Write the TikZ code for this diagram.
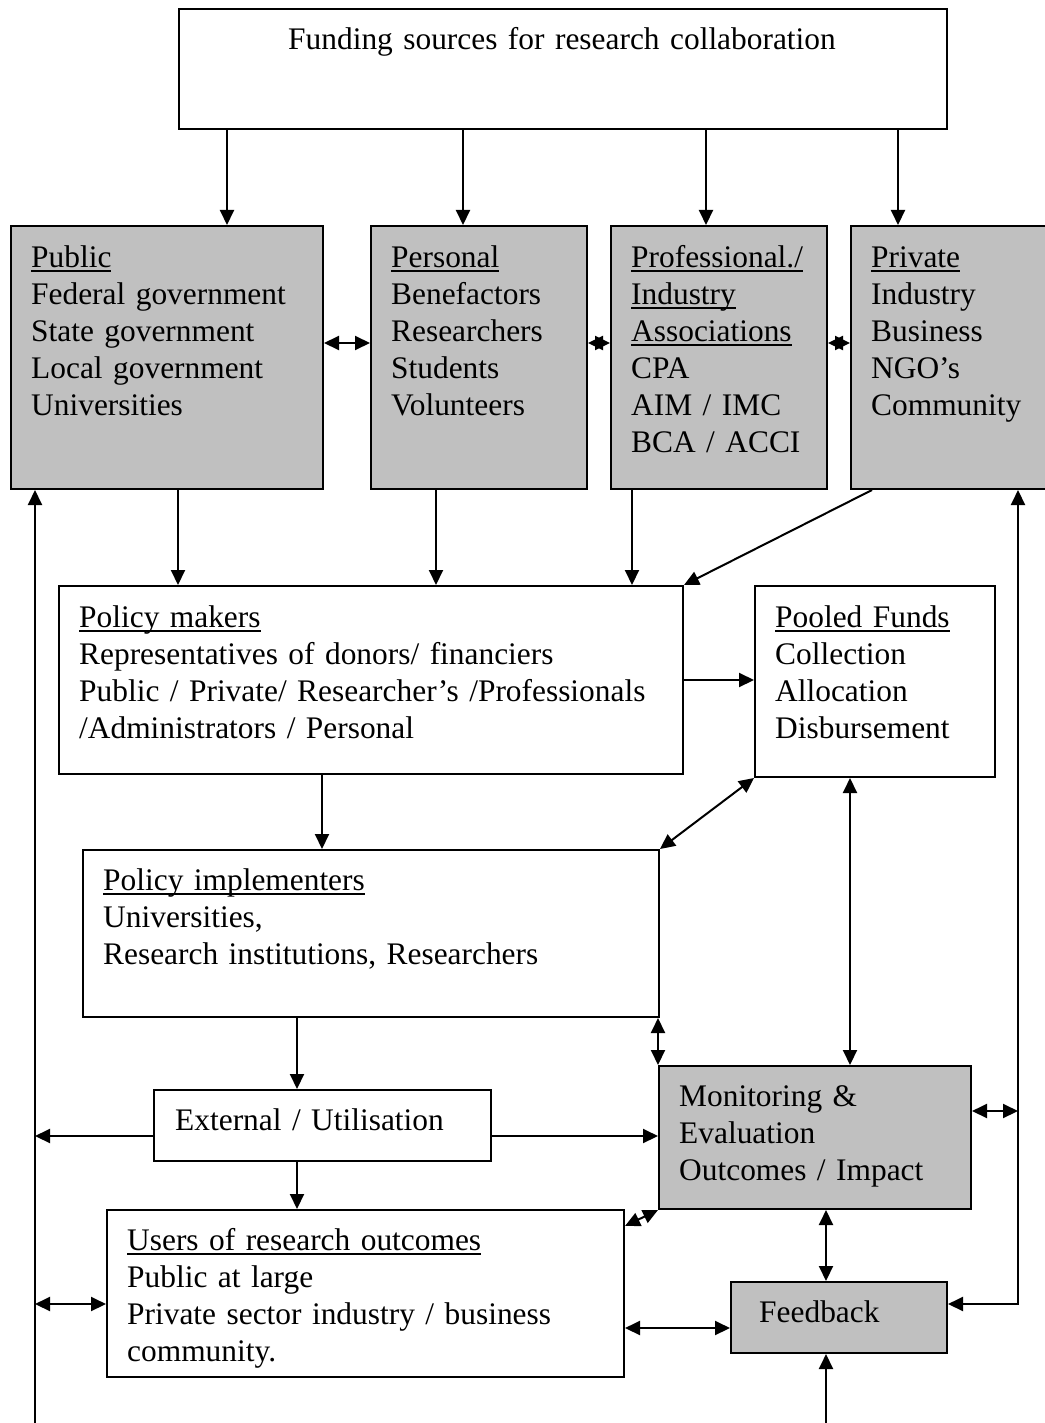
\documentclass[tikz,border=0pt]{standalone}
\usepackage{fontspec}
\setmainfont{Liberation Serif}
\usetikzlibrary{arrows.meta,calc}
\definecolor{boxgray}{RGB}{192,192,192}
% underline at a fixed depth below the baseline
\newcommand\uln[1]{\leavevmode\setbox0=\hbox{#1}\rlap{\rule[-5pt]{\wd0}{1.8pt}}\box0}
\begin{document}
\begin{tikzpicture}[x=1pt,y=-1pt,
  box/.style={draw=black,line width=2pt,fill=white,inner sep=0pt,anchor=north west},
  graybox/.style={box,fill=boxgray},
  txt/.style={anchor=base west,inner sep=0pt,align=left,text width=#1,
              font=\fontsize{31.4}{37}\selectfont},
  txt/.default=600pt,
  tip/.tip={Triangle[length=15pt,width=14pt]},
  arr/.style={line width=2pt,-tip},
  darr/.style={line width=2pt,tip-tip}]
\useasboundingbox (0,0) rectangle (1044,1423);

% boxes
\node[box,minimum width=768pt,minimum height=120pt] (top) at (178,8) {};
\node[graybox,minimum width=312pt,minimum height=263pt] (pub) at (10,225) {};
\node[graybox,minimum width=216pt,minimum height=263pt] (per) at (370,225) {};
\node[graybox,minimum width=216pt,minimum height=263pt] (pro) at (610,225) {};
\node[graybox,minimum width=200pt,minimum height=263pt] (pri) at (850,225) {};
\node[box,minimum width=624pt,minimum height=188pt] (pm) at (58,585) {};
\node[box,minimum width=240pt,minimum height=191pt] (pool) at (754,585) {};
\node[box,minimum width=576pt,minimum height=167pt] (impl) at (82,849) {};
\node[box,minimum width=337pt,minimum height=71pt] (ext) at (153,1089) {};
\node[graybox,minimum width=312pt,minimum height=143pt] (mon) at (658,1065) {};
\node[box,minimum width=517pt,minimum height=167pt] (users) at (106,1209) {};
\node[graybox,minimum width=216pt,minimum height=71pt] (fb) at (730,1281) {};

% texts
\node[txt=768pt,anchor=base,align=center] (ttop) at (562,50)
  {Funding sources for research collaboration};
\node[txt] (tpub) at (31,267) {\uln{Public}\\Federal government\\State government\\Local government\\Universities};
\node[txt] (tper) at (391,267) {\uln{Personal}\\Benefactors\\Researchers\\Students\\Volunteers};
\node[txt] (tpro) at (631,267) {\uln{Professional./}\\\uln{Industry}\\\uln{Associations}\\CPA\\AIM / IMC\\BCA / ACCI};
\node[txt] (tpri) at (871,267) {\uln{Private}\\Industry\\Business\\NGO’s\\Community};
\node[txt] (tpm) at (79,627) {\uln{Policy makers}\\Representatives of donors/ financiers\\Public / Private/ Researcher’s /Professionals\\/Administrators / Personal};
\node[txt] (tpool) at (775,627) {\uln{Pooled Funds}\\Collection\\Allocation\\Disbursement};
\node[txt] (timpl) at (103,890) {\uln{Policy implementers}\\Universities,\\Research institutions, Researchers};
\node[txt] (text) at (175,1130) {External / Utilisation};
\node[txt] (tmon) at (679,1106) {Monitoring \&\\Evaluation\\Outcomes / Impact};
\node[txt] (tusers) at (127,1250) {\uln{Users of research outcomes}\\Public at large\\Private sector industry / business\\community.};
\node[txt] (tfb) at (759,1322) {Feedback};

% free ends of the long side lines
\coordinate (lb) at (35,1440);
\coordinate (fbin) at (826,1440);
\coordinate (rc) at (1018,1304);

% funding sources
\draw[arr] (227,0 |- top.south) -- (227,0 |- pub.north);
\draw[arr] (463,0 |- top.south) -- (463,0 |- per.north);
\draw[arr] (706,0 |- top.south) -- (706,0 |- pro.north);
\draw[arr] (898,0 |- top.south) -- (898,0 |- pri.north);
\draw[darr] (pub.east |- 0,343) -- (per.west |- 0,343);
\draw[darr] (per.east |- 0,343) -- (pro.west |- 0,343);
\draw[darr] (pro.east |- 0,343) -- (pri.west |- 0,343);

% into policy makers
\draw[arr] (178,0 |- pub.south) -- (178,0 |- pm.north);
\draw[arr] (436,0 |- per.south) -- (436,0 |- pm.north);
\draw[arr] (632,0 |- pro.south) -- (632,0 |- pm.north);
\draw[arr] (872,0 |- pri.south) -- (pm.north east);
\draw[arr] (pm.east |- 0,680) -- (pool.west |- 0,680);
\draw[arr] (322,0 |- pm.south) -- (322,0 |- impl.north);

% pooled funds, implementers, monitoring
\draw[darr] (pool.south west) -- (impl.north east);
\draw[darr] (850,0 |- pool.south) -- (850,0 |- mon.north);
\draw[darr] (658,0 |- impl.south) -- (658,0 |- mon.north);
\draw[arr] (297,0 |- impl.south) -- (297,0 |- ext.north);
\draw[arr] (ext.west |- 0,1136) -- (lb |- 0,1136);
\draw[arr] (ext.east |- 0,1136) -- (mon.west |- 0,1136);
\draw[arr] (297,0 |- ext.south) -- (297,0 |- users.north);
\draw[darr] (mon.south west) -- (users.east |- 0,1226);

% feedback loops
\draw[arr] (lb) -- (lb |- pub.south);
\draw[darr] (lb |- 0,1304) -- (users.west |- 0,1304);
\draw[darr] (users.east |- 0,1328) -- (fb.west |- 0,1328);
\draw[darr] (826,0 |- mon.south) -- (826,0 |- fb.north);
\draw[arr] (fbin) -- (fbin |- fb.south);
\draw[darr] (rc |- pri.south) -- (rc) -- (fb.east |- rc);
\draw[darr] (mon.east |- 0,1111) -- (rc |- 0,1111);
\end{tikzpicture}
\end{document}
